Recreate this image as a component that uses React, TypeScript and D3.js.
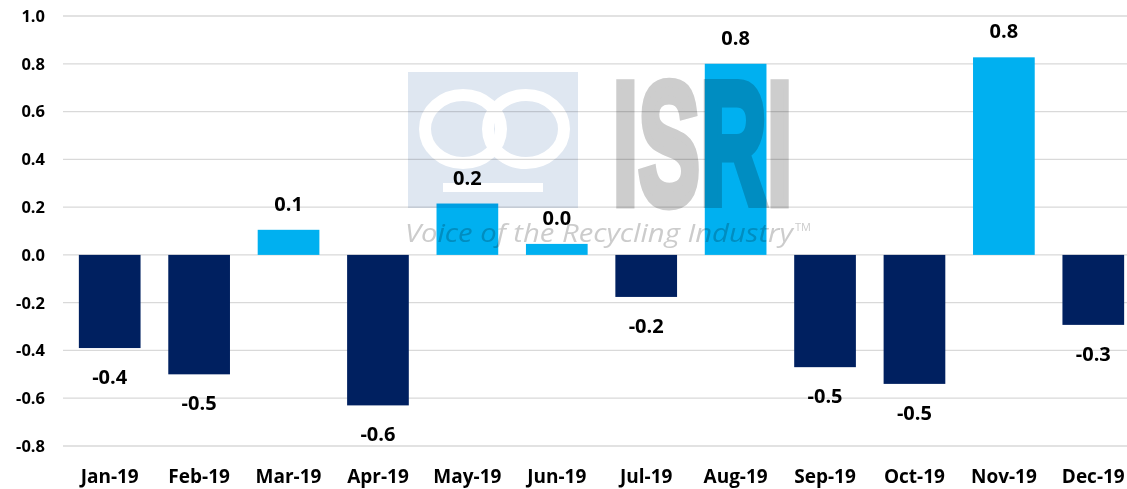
import React from "react";
import * as d3 from "d3";

const months = ["Jan-19","Feb-19","Mar-19","Apr-19","May-19","Jun-19","Jul-19","Aug-19","Sep-19","Oct-19","Nov-19","Dec-19"];
const values = [-0.39, -0.50, 0.105, -0.63, 0.215, 0.046, -0.176, 0.80, -0.47, -0.54, 0.827, -0.293];
const yTicks = [-0.8, -0.6, -0.4, -0.2, 0.0, 0.2, 0.4, 0.6, 0.8, 1.0];

const W = 1127, H = 489;
const NAVY = "#002060";
const LIGHT = "#00B0F0";
const FONT = "'Open Sans', 'DejaVu Sans', sans-serif";

const fmt = (v: number) => d3.format(".1f")(v).replace("\u2212", "-");

export default function App() {
  const x = d3.scaleBand<string>().domain(months).range([65, 1138]).paddingInner(0.31).paddingOuter(0.155);
  const y = d3.scaleLinear().domain([-0.8, 1.0]).range([446, 16]);
  const y0 = y(0);
  return (
    <svg width={W} height={H} style={{ position: "absolute", left: 0, top: 0, background: "#fff" }}>
      <rect x={0} y={0} width={W} height={H} fill="#fff" />
      {yTicks.map((t) => (
        <g key={t}>
          <line x1={63} x2={W} y1={y(t)} y2={y(t)} stroke="#d9d9d9" strokeWidth={1.3} />
          <text x={45} y={y(t)} dy="0.36em" textAnchor="end" fontFamily={FONT} fontWeight={700} fontSize={16.5} fill="#000">
            {fmt(t)}
          </text>
        </g>
      ))}
      {months.map((m, i) => {
        const v = values[i];
        const bx = x(m)!;
        const top = Math.min(y(v), y0);
        const h = Math.abs(y(v) - y0);
        return (
          <rect key={m} x={bx} y={top} width={x.bandwidth()} height={h} fill={v >= 0 ? LIGHT : NAVY} />
        );
      })}
      {/* watermark */}
      <g style={{ mixBlendMode: "multiply" }}>
        <rect x={408} y={72} width={170} height={136} fill="#dfe7f1" />
        <g fill="none" stroke="#fff" strokeWidth={12}>
          <ellipse cx={463} cy={129} rx={38} ry={34} />
          <ellipse cx={526} cy={129} rx={38} ry={34} />
        </g>
        <rect x={443} y={183} width={100} height={9} fill="#fff" />
        <text x={612.5} y={203.5} fontFamily="'Liberation Sans Narrow', 'Liberation Sans', sans-serif" fontWeight={700} fontSize={174}
          textLength={180} lengthAdjust="spacingAndGlyphs" fill="#cdcdcd" stroke="#cdcdcd" strokeWidth={9}>ISRI</text>
        <text x={405} y={242} fontFamily={FONT} fontStyle="italic" fontSize={25} fill="#cccccc"
          textLength={388} lengthAdjust="spacingAndGlyphs">Voice of the Recycling Industry</text>
        <text x={795} y={231} fontFamily={FONT} fontSize={11} fill="#cccccc">TM</text>
      </g>
      {months.map((m, i) => {
        const v = values[i];
        const cx = x(m)! + x.bandwidth() / 2;
        const ly = v >= 0 ? y(v) - 19 : y(v) + 36;
        return (
          <text key={m} x={cx} y={ly} textAnchor="middle" fontFamily={FONT} fontWeight={700} fontSize={20} fill="#000">
            {fmt(v)}
          </text>
        );
      })}
      {months.map((m) => (
        <text key={m} x={x(m)! + x.bandwidth() / 2} y={483} textAnchor="middle" fontFamily={FONT} fontWeight={700} fontSize={19} fill="#000">
          {m}
        </text>
      ))}
    </svg>
  );
}
